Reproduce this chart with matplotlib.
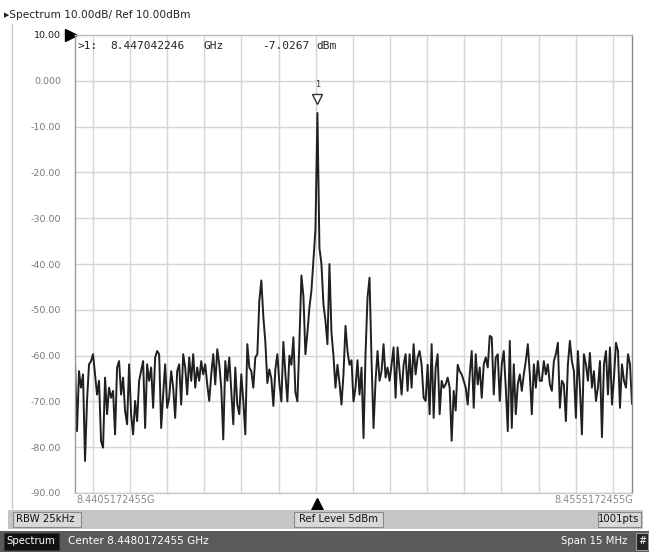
import numpy as np
import matplotlib.pyplot as plt
from matplotlib.patches import Rectangle

# sweep settings (GHz / dBm)
f_start = 8.4405172455
f_stop = 8.4555172455
marker_freq = 8.447042246
marker_level = -7.0267
y_ticks = [10, 0, -10, -20, -30, -40, -50, -60, -70, -80, -90]
y_labels = ["10.00", "0.000", "-10.00", "-20.00", "-30.00", "-40.00",
            "-50.00", "-60.00", "-70.00", "-80.00", "-90.00"]
grid_mhz = [8.441, 8.442, 8.443, 8.444, 8.445, 8.446, 8.447, 8.448,
            8.449, 8.450, 8.451, 8.452, 8.453, 8.454, 8.455]

# trace, left to right (dBm)
seg1 = [-61.2, -76.5, -63.4, -67, -64.1, -83, -69.9, -61.9, -61.2, -59.7,
        -64.1, -68.5, -65.5, -78.7, -80.1, -64.8, -72.8, -67, -69.2, -67.7,
        -77.2, -62.6, -61.2, -68.5, -64.8, -72.1, -75, -61.9, -72.8, -77.2,
        -69.9, -74.3, -65.5, -63.4, -61.2, -75.8, -61.9, -65.5, -62.6, -71.4,
        -60.4, -59, -59.7, -75.8, -68.5, -61.9, -71.4]
seg2 = [-69.2, -63.4, -67, -73.6, -63.4, -61.9, -70.7, -59.7, -62.6, -68.5,
        -60.4, -65.5, -59.7, -67, -62.6, -65.5, -61.2, -64.1, -61.9, -66.3,
        -69.9, -64.1, -59.7, -66.3, -58.6, -61.9, -67, -78.3, -61.2, -65.5,
        -60.4, -67.7, -75, -62.6, -70.7, -72.8, -64.1, -69.9, -77.2, -57.5,
        -62.6, -63.4, -67, -60.4, -59.7, -48]
seg3 = [-43.6, -51.5, -57, -66, -63, -65, -71, -63, -59.7, -66,
        -70, -57, -64, -70, -60, -62, -56, -68, -70, -57,
        -42.5, -47, -59.7, -55, -49.5, -45.8, -39, -32.5, -7.03, -36.5,
        -40, -48.8, -52.4, -57.5, -40, -55, -60, -67, -62, -66,
        -70.7, -64, -53.5, -59, -62, -61, -70]
seg4 = [-67, -61, -68.5, -62.6, -78, -59.7, -47.3, -43, -61, -75.8,
        -65.5, -59, -65.5, -63.4, -57.5, -64.8, -62.6, -65.5, -62, -58.2,
        -69.2, -58.2, -63.4, -68.5, -62, -59.7, -67.7, -59.7, -67, -57.5,
        -64.1, -60.4, -59, -62, -69.2, -69.9, -62, -72.8, -57.5, -73.6,
        -62.6, -59.7, -72.8, -65.5, -67, -66.3, -64.8]
seg5 = [-67, -78.6, -67.7, -72, -62, -63.4, -64.1, -65.5, -67, -70.7,
        -64.1, -59, -71.4, -59.7, -66.3, -62.6, -69.2, -61.9, -60.4, -62.6,
        -55.7, -56, -68.5, -60.4, -59.7, -69.9, -61.9, -59, -67, -76.5,
        -56.8, -75.8, -61.9, -72.8, -66.3, -64.1, -67.7, -64.1, -61.2, -57.5,
        -64.1, -72.8, -61.9, -67, -61.2, -65.5]
seg6 = [-65.5, -61.2, -64.1, -61.9, -66.3, -67.7, -61.2, -59.7, -57.2, -71.4,
        -65.5, -66.3, -74.3, -61.9, -56.8, -61.2, -63.4, -73.6, -59, -67,
        -77.2, -59.7, -61.9, -65.5, -59.4, -67, -63.4, -69.9, -67, -61.2,
        -77.8, -61.9, -59, -68.5, -58.2, -70.7, -64.8, -57.2, -59, -71.4,
        -61.9, -65.5, -67, -59.7, -61.9, -70.5]

trace = np.array(seg1 + seg2 + seg3 + seg4 + seg5 + seg6)
freqs = np.linspace(f_start, f_stop, len(trace))

W, H = 649, 552
fig = plt.figure(figsize=(W / 100, H / 100), dpi=100)
fig.patch.set_facecolor("white")

def fx(px):
    return px / W

def fy(py):
    return 1 - py / H

ax = fig.add_axes([fx(75), fy(493), fx(632) - fx(75), fy(35) - fy(493)])
ax.set_xlim(f_start, f_stop)
ax.set_ylim(-90, 10)
ax.set_xticks(grid_mhz)
ax.set_xticklabels([])
ax.set_yticks(y_ticks)
ax.set_yticklabels(y_labels)
ax.tick_params(axis="both", length=0, pad=10)
ax.tick_params(axis="y", labelsize=6.8, labelcolor="#7a7a7a")
ax.get_yticklabels()[0].set_color("#1a1a1a")
ax.grid(True, color="#d6d6d6", lw=1)
ax.set_axisbelow(True)
for side, c in [("left", "#999999"), ("right", "#888888"),
                ("top", "#bdbdbd"), ("bottom", "#c8c8c8")]:
    ax.spines[side].set_color(c)
    ax.spines[side].set_linewidth(1)

ax.plot(freqs, trace, color="#202020", lw=1.4)

# marker 1
ax.plot(marker_freq, marker_level + 3.0, marker="v", ms=7, mfc="white",
        mec="#333333", mew=1.0, clip_on=False)
ax.text(marker_freq, marker_level + 5.3, "1", ha="center", va="bottom",
        fontsize=6, color="#333333")
for px, s in [(77, ">1:"), (110, "8.447042246"), (203, "GHz"),
              (262, "-7.0267"), (316, "dBm")]:
    fig.text(fx(px), fy(46), s, ha="left", va="center",
             family="DejaVu Sans Mono", fontsize=8.0, color="#222222")

# ref level and marker position arrows
ax.plot(-0.008, 1.0, marker=">", ms=9, color="black",
        transform=ax.transAxes, clip_on=False)
ax.plot(marker_freq, -92.3, marker="^", ms=8, color="black", clip_on=False)

# x range labels
fig.text(fx(76), fy(500), "8.4405172455G", ha="left", va="center",
         fontsize=7, color="#8a8a8a")
fig.text(fx(633), fy(500), "8.4555172455G", ha="right", va="center",
         fontsize=7, color="#8a8a8a")

# title and panel border
fig.text(fx(4), fy(15), "\u25b8Spectrum 10.00dB/ Ref 10.00dBm", ha="left",
         va="center", fontsize=7.6, color="#222222")
fig.add_artist(plt.Line2D([fx(12), fx(12)], [fy(24), fy(508)],
                          color="#c8c8c8", lw=1))

# status bar
fig.add_artist(Rectangle((fx(8), fy(529)), fx(635), 19 / H,
                         facecolor="#c6c6c6", edgecolor="none"))
for x0, x1, label, ha in [(13, 81, "RBW 25kHz", "left"),
                          (294, 383, "Ref Level 5dBm", "center"),
                          (598, 641, "1001pts", "right")]:
    fig.add_artist(Rectangle((fx(x0), fy(527)), fx(x1 - x0), 15 / H,
                             facecolor="#d8d8d8", edgecolor="#8a8a8a",
                             lw=0.8))
    tx = {"left": x0 + 3, "center": (x0 + x1) / 2, "right": x1 - 2}[ha]
    fig.text(fx(tx), fy(519.5), label, ha=ha, va="center", fontsize=7.3,
             color="#111111")

fig.add_artist(Rectangle((0, 0), 1, 21 / H, facecolor="#5a5a5a",
                         edgecolor="none"))
fig.add_artist(Rectangle((fx(4), fy(550)), fx(55), 17 / H,
                         facecolor="#111111", edgecolor="#333333", lw=0.8))
fig.text(fx(31), fy(541.5), "Spectrum", ha="center", va="center",
         fontsize=7.3, color="white")
fig.text(fx(68), fy(541.5), "Center 8.4480172455 GHz", ha="left",
         va="center", fontsize=7.6, color="white")
fig.text(fx(627), fy(541.5), "Span 15 MHz", ha="right", va="center",
         fontsize=7.3, color="white")
fig.add_artist(Rectangle((fx(636), fy(550)), fx(12), 17 / H,
                         facecolor="#222222", edgecolor="#999999", lw=0.8))
fig.text(fx(642), fy(541.5), "#", ha="center", va="center", fontsize=7,
         color="white")

fig.savefig("out.png", dpi=100)
